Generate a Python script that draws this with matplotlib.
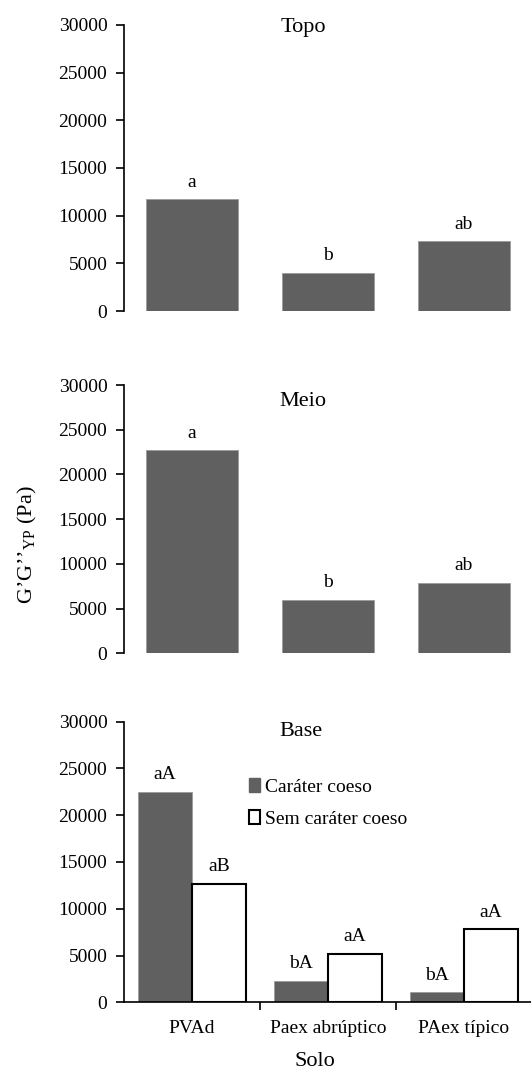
import matplotlib
matplotlib.use("Agg")
import matplotlib.pyplot as plt
import numpy as np
from matplotlib.patches import Patch
from matplotlib.ticker import FixedLocator

plt.rcParams['font.family'] = ['Liberation Serif', 'DejaVu Serif']
plt.rcParams['mathtext.fontset'] = 'custom'
plt.rcParams['mathtext.rm'] = 'Liberation Serif'
plt.rcParams['mathtext.it'] = 'Liberation Serif:italic'

solos = ["PVAd", "Paex abrúptico", "PAex típico"]
topo_vals = [11700, 4000, 7300]
topo_letters = ["a", "b", "ab"]
meio_vals = [22700, 6000, 7900]
meio_letters = ["a", "b", "ab"]
base_coeso = [22500, 2300, 1100]
base_sem = [12700, 5200, 7800]
base_coeso_letters = ["aA", "bA", "bA"]
base_sem_letters = ["aB", "aA", "aA"]
yticks = [0, 5000, 10000, 15000, 20000, 25000, 30000]

W, H = 531, 1073
fig = plt.figure(figsize=(W / 100, H / 100), dpi=100)
dark = "#606060"
FS = 14

def make_ax(top_px, bot_px):
    left = 124 / W
    right = 531 / W
    return fig.add_axes([left, 1 - bot_px / H, right - left, (bot_px - top_px) / H])

def style(ax, show_x):
    ax.set_ylim(0, 30000)
    ax.set_yticks(yticks)
    ax.set_yticklabels([str(v) for v in yticks], fontsize=FS)
    ax.set_xlim(-0.5, -0.5 + 407 / 136.0)
    for s in ["top", "right"]:
        ax.spines[s].set_visible(False)
    ax.spines["left"].set_linewidth(1.2)
    ax.tick_params(axis="y", direction="out", length=6, width=1.2, pad=6)
    if show_x:
        ax.spines["bottom"].set_linewidth(1.2)
        ax.set_xticks(range(len(solos)))
        ax.set_xticklabels(solos, fontsize=FS)
        ax.tick_params(axis="x", which="major", length=0, pad=13)
        ax.xaxis.set_minor_locator(FixedLocator([0.5, 1.5]))
        ax.tick_params(axis="x", which="minor", length=6, width=1.2, direction="out")
    else:
        ax.spines["bottom"].set_visible(False)
        ax.set_xticks([])

x = np.arange(len(solos))

# Topo
ax1 = make_ax(25, 311)
style(ax1, False)
ax1.bar(x, topo_vals, width=0.67, color=dark, edgecolor="#9a9a9a", linewidth=0.6)
for xi, v, t in zip(x, topo_vals, topo_letters):
    ax1.annotate(t, (xi, v), xytext=(0, 9), textcoords="offset points", ha="center", va="baseline", fontsize=FS)
ax1.text(0.44, 0.99, "Topo", transform=ax1.transAxes, ha="center", va="center", fontsize=16)

# Meio
ax2 = make_ax(385, 653.3)
style(ax2, False)
ax2.bar(x, meio_vals, width=0.67, color=dark, edgecolor="#9a9a9a", linewidth=0.6)
for xi, v, t in zip(x, meio_vals, meio_letters):
    ax2.annotate(t, (xi, v), xytext=(0, 9), textcoords="offset points", ha="center", va="baseline", fontsize=FS)
ax2.text(0.44, 0.94, "Meio", transform=ax2.transAxes, ha="center", va="center", fontsize=16)

# Base
ax3 = make_ax(721.7, 1002.3)
style(ax3, True)
w = 0.4
ax3.bar(x - w / 2, base_coeso, width=w, color=dark, edgecolor="#9a9a9a", linewidth=0.6, label="Caráter coeso")
ax3.bar(x + w / 2, base_sem, width=w, color="white", edgecolor="black", linewidth=1.5, label="Sem caráter coeso")
for xi, v, t in zip(x - w / 2, base_coeso, base_coeso_letters):
    ax3.annotate(t, (xi, v), xytext=(0, 9), textcoords="offset points", ha="center", va="baseline", fontsize=FS)
for xi, v, t in zip(x + w / 2, base_sem, base_sem_letters):
    ax3.annotate(t, (xi, v), xytext=(0, 9), textcoords="offset points", ha="center", va="baseline", fontsize=FS)
ax3.text(0.435, 0.965, "Base", transform=ax3.transAxes, ha="center", va="center", fontsize=16)
handles = [Patch(facecolor=dark, edgecolor=dark), Patch(facecolor="white", edgecolor="black", linewidth=1.5)]
ax3.legend(handles, ["Caráter coeso", "Sem caráter coeso"], loc="upper left",
           bbox_to_anchor=((249 - 124) / 407, (1002.3 - 778) / 280.6), frameon=False,
           fontsize=FS, handlelength=0.55, handleheight=0.7, handletextpad=0.25,
           labelspacing=0.75, borderpad=0, borderaxespad=0)

fig.text(315 / W, 1 - 1062 / H, "Solo", ha="center", va="center", fontsize=16)
fig.text(27 / W, 1 - 545 / H, "G’G’’$_{\\mathrm{YP}}$ (Pa)", rotation=90, ha="center", va="center", fontsize=16)

fig.savefig("out.png", dpi=100)
